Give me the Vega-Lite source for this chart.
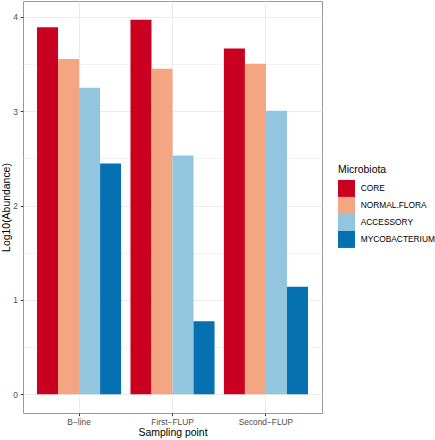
{
  "$schema": "https://vega.github.io/schema/vega-lite/v6.json",
  "width": 299,
  "height": 412,
  "autosize": {"type": "none"},
  "padding": {"left": 23, "top": 1, "right": 113, "bottom": 27},
  "background": "white",
  "config": {
    "font": "Liberation Sans",
    "view": {"stroke": "#999999", "strokeWidth": 1},
    "axis": {
      "domain": false,
      "tickColor": "#333333",
      "tickSize": 2.7,
      "tickWidth": 1,
      "labelColor": "#4D4D4D",
      "labelFontSize": 8.36,
      "labelFont": "Liberation Sans",
      "titleFont": "Liberation Sans",
      "titleFontSize": 10.45,
      "titleFontWeight": "normal",
      "titleColor": "#000000",
      "gridColor": "#EBEBEB"
    }
  },
  "data": {
    "values": [
      {"Sampling": "B−line", "Microbiota": "CORE", "value": 3.89},
      {"Sampling": "B−line", "Microbiota": "NORMAL.FLORA", "value": 3.555},
      {"Sampling": "B−line", "Microbiota": "ACCESSORY", "value": 3.25},
      {"Sampling": "B−line", "Microbiota": "MYCOBACTERIUM", "value": 2.445},
      {"Sampling": "First−FLUP", "Microbiota": "CORE", "value": 3.97},
      {"Sampling": "First−FLUP", "Microbiota": "NORMAL.FLORA", "value": 3.45},
      {"Sampling": "First−FLUP", "Microbiota": "ACCESSORY", "value": 2.53},
      {"Sampling": "First−FLUP", "Microbiota": "MYCOBACTERIUM", "value": 0.775},
      {"Sampling": "Second−FLUP", "Microbiota": "CORE", "value": 3.666},
      {"Sampling": "Second−FLUP", "Microbiota": "NORMAL.FLORA", "value": 3.503},
      {"Sampling": "Second−FLUP", "Microbiota": "ACCESSORY", "value": 3.004},
      {"Sampling": "Second−FLUP", "Microbiota": "MYCOBACTERIUM", "value": 1.14}
    ]
  },
  "mark": {"type": "bar"},
  "encoding": {
    "x": {
      "field": "Sampling",
      "type": "nominal",
      "sort": ["B−line", "First−FLUP", "Second−FLUP"],
      "scale": {"paddingInner": 0.1, "paddingOuter": 0.15},
      "axis": {
        "title": "Sampling point",
        "labelAngle": 0,
        "labelPadding": 2.2,
        "grid": true,
        "gridWidth": 1,
        "bandPosition": 0.5,
        "titleY": 19.5,
        "titleBaseline": "middle"
      }
    },
    "xOffset": {
      "field": "Microbiota",
      "type": "nominal",
      "sort": ["CORE", "NORMAL.FLORA", "ACCESSORY", "MYCOBACTERIUM"],
      "scale": {"paddingInner": 0, "paddingOuter": 0}
    },
    "y": {
      "field": "value",
      "type": "quantitative",
      "scale": {"domain": [-0.1985, 4.1685], "nice": false, "zero": false},
      "axis": {
        "title": "Log10(Abundance)",
        "values": [0, 0.5, 1, 1.5, 2, 2.5, 3, 3.5, 4],
        "labelExpr": "datum.value % 1 === 0 ? format(datum.value, 'd') : ''",
        "tickOpacity": {"condition": {"test": "datum.value % 1 === 0", "value": 1}, "value": 0},
        "gridWidth": {"condition": {"test": "datum.value % 1 === 0", "value": 1}, "value": 0.6},
        "grid": true,
        "labelPadding": 3,
        "titleX": -17,
        "titleBaseline": "middle"
      }
    },
    "color": {
      "field": "Microbiota",
      "type": "nominal",
      "sort": ["CORE", "NORMAL.FLORA", "ACCESSORY", "MYCOBACTERIUM"],
      "scale": {
        "domain": ["CORE", "NORMAL.FLORA", "ACCESSORY", "MYCOBACTERIUM"],
        "range": ["#CA0020", "#F4A582", "#92C5DE", "#0571B0"]
      },
      "legend": {
        "title": "Microbiota",
        "orient": "none",
        "legendX": 315,
        "legendY": 163.5,
        "padding": 0,
        "titleFontSize": 10.45,
        "titleFontWeight": "normal",
        "titleColor": "#000000",
        "titlePadding": 5,
        "labelFontSize": 8.36,
        "labelColor": "#000000",
        "symbolType": "square",
        "symbolSize": 289,
        "symbolStrokeWidth": 0,
        "symbolOpacity": 1,
        "rowPadding": 0,
        "labelOffset": 5.7,
        "symbolOffset": 0
      }
    }
  }
}
